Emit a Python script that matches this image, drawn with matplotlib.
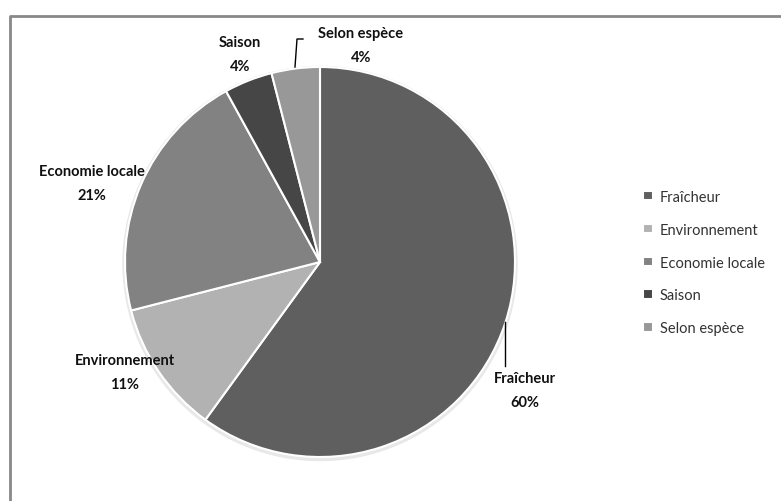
import matplotlib.pyplot as plt
from matplotlib.lines import Line2D

labels = ["Fraîcheur", "Environnement", "Economie locale", "Saison", "Selon espèce"]
values = [60, 11, 21, 4, 4]
colors = ["#5f5f5f", "#b2b2b2", "#828282", "#464646", "#989898"]

# label positions (pixels) for the data labels
label_pos = [(525, 391), (125, 373), (92, 184), (240, 55), (361, 46)]

fig = plt.figure(figsize=(7.81, 5.02), dpi=100)
ax = fig.add_axes([0, 0, 1, 1])

# outer frame (top and left visible)
ax.add_line(Line2D([9.5, 9.5, 790], [600, 16.5, 16.5], color="#888888", lw=2))

# faint shadow around pie
shadow = plt.Circle((320, 264.5), 197, color="#e8e8e8", zorder=1)
ax.add_patch(shadow)

# y axis is inverted, so start at -90 and go counterclockwise in data space
wedges, _ = ax.pie(values, colors=colors, startangle=-90, counterclock=True,
                   center=(320, 263), radius=195, frame=True,
                   wedgeprops=dict(edgecolor="white", linewidth=1.5, zorder=2))
ax.set_xlim(0, 781)
ax.set_ylim(502, 0)
ax.axis("off")

for lab, v, (x, y) in zip(labels, values, label_pos):
    ax.text(x, y, f"{lab}\n{v}%", ha="center", va="center", fontsize=10.5,
            fontweight="bold", family="Lato", linespacing=1.85, color="#111111")

# leader lines
ax.plot([505, 505], [323, 367], color="black", lw=1)
ax.plot([295, 297, 303], [68, 40, 40], color="black", lw=1)

leg = ax.legend(wedges, labels, loc="center left", bbox_to_anchor=(636 / 781, 1 - 263.5 / 502),
                bbox_transform=fig.transFigure, frameon=False, borderpad=0,
                handlelength=0.65, handleheight=0.65, handletextpad=0.5,
                labelspacing=1.3, prop=dict(family="Lato", size=10.5))
for t in leg.get_texts():
    t.set_color("#333333")

fig.savefig("out.png", dpi=100)
